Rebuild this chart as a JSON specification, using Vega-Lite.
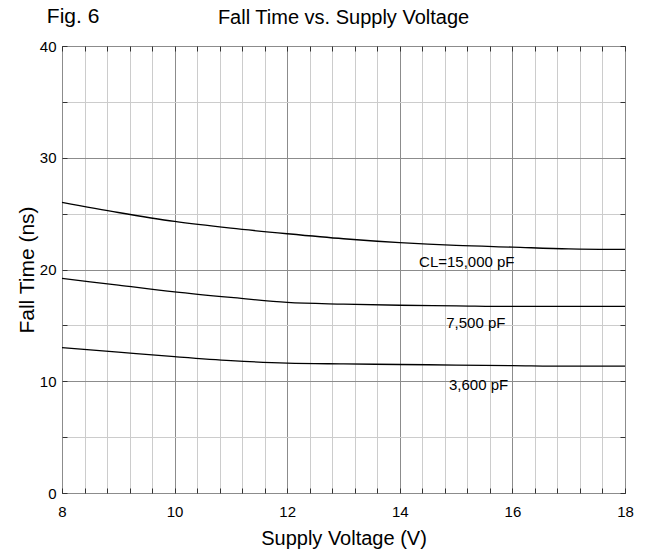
{
  "$schema": "https://vega.github.io/schema/vega-lite/v6.json",
  "width": 563,
  "height": 447,
  "autosize": "none",
  "padding": {"left": 62, "top": 46, "right": 23, "bottom": 66},
  "background": "white",
  "config": {
    "view": {"stroke": "#000", "strokeWidth": 1},
    "font": "Liberation Sans",
    "text": {"font": "Liberation Sans", "color": "#000"}
  },
  "title": {
    "text": "Fall Time vs. Supply Voltage",
    "fontSize": 20,
    "fontWeight": "normal",
    "font": "Liberation Sans",
    "color": "#000",
    "anchor": "middle",
    "frame": "group",
    "offset": -22
  },
  "datasets": {
    "curves": [
      {"V": 8, "t": 26.0, "CL": "15000"},
      {"V": 9, "t": 25.1, "CL": "15000"},
      {"V": 10, "t": 24.3, "CL": "15000"},
      {"V": 11, "t": 23.7, "CL": "15000"},
      {"V": 12, "t": 23.2, "CL": "15000"},
      {"V": 13, "t": 22.75, "CL": "15000"},
      {"V": 14, "t": 22.4, "CL": "15000"},
      {"V": 15, "t": 22.15, "CL": "15000"},
      {"V": 16, "t": 22.0, "CL": "15000"},
      {"V": 17, "t": 21.85, "CL": "15000"},
      {"V": 18, "t": 21.8, "CL": "15000"},
      {"V": 8, "t": 19.2, "CL": "7500"},
      {"V": 9, "t": 18.6, "CL": "7500"},
      {"V": 10, "t": 18.0, "CL": "7500"},
      {"V": 11, "t": 17.5, "CL": "7500"},
      {"V": 12, "t": 17.05, "CL": "7500"},
      {"V": 13, "t": 16.9, "CL": "7500"},
      {"V": 14, "t": 16.8, "CL": "7500"},
      {"V": 15, "t": 16.75, "CL": "7500"},
      {"V": 16, "t": 16.7, "CL": "7500"},
      {"V": 17, "t": 16.7, "CL": "7500"},
      {"V": 18, "t": 16.7, "CL": "7500"},
      {"V": 8, "t": 13.0, "CL": "3600"},
      {"V": 9, "t": 12.6, "CL": "3600"},
      {"V": 10, "t": 12.2, "CL": "3600"},
      {"V": 11, "t": 11.85, "CL": "3600"},
      {"V": 12, "t": 11.62, "CL": "3600"},
      {"V": 13, "t": 11.55, "CL": "3600"},
      {"V": 14, "t": 11.5, "CL": "3600"},
      {"V": 15, "t": 11.45, "CL": "3600"},
      {"V": 16, "t": 11.4, "CL": "3600"},
      {"V": 17, "t": 11.35, "CL": "3600"},
      {"V": 18, "t": 11.35, "CL": "3600"}
    ],
    "labels": [
      {"V": 15.19, "t": 20.2, "label": "CL=15,000 pF"},
      {"V": 15.35, "t": 14.76, "label": "7,500 pF"},
      {"V": 15.4, "t": 9.22, "label": "3,600 pF"}
    ],
    "fig": [
      {"V": 7.73, "t": 42.06, "label": "Fig. 6"}
    ]
  },
  "layer": [
    {
      "data": {"name": "curves"},
      "mark": {"type": "line", "color": "#000", "strokeWidth": 1.3, "interpolate": "monotone"},
      "encoding": {
        "x": {
          "field": "V", "type": "quantitative",
          "scale": {"domain": [8, 18], "nice": false, "zero": false},
          "axis": {
            "orient": "bottom",
            "values": [8, 8.4, 8.8, 9.2, 9.6, 10, 10.4, 10.8, 11.2, 11.6, 12, 12.4, 12.8, 13.2, 13.6, 14, 14.4, 14.8, 15.2, 15.6, 16, 16.4, 16.8, 17.2, 17.6, 18],
            "grid": true,
            "gridColor": {"condition": {"test": "datum.value % 2 === 0", "value": "#8c8c8c"}, "value": "#cccccc"},
            "gridOpacity": 1,
            "gridWidth": 1,
            "domain": false,
            "ticks": true,
            "tickSize": -5,
            "tickColor": "#333",
            "labelExpr": "datum.value % 2 === 0 ? format(datum.value, 'd') : ''",
            "labelOverlap": false,
            "labelFlush": false,
            "labelBound": false,
            "labelFontSize": 15,
            "labelColor": "#000",
            "labelPadding": 16,
            "title": "Supply Voltage (V)",
            "titleFontSize": 20,
            "titleFontWeight": "normal",
            "titleColor": "#000",
            "titlePadding": 9
          }
        },
        "y": {
          "field": "t", "type": "quantitative",
          "scale": {"domain": [0, 40], "nice": false},
          "axis": {
            "orient": "left",
            "values": [0, 5, 10, 15, 20, 25, 30, 35, 40],
            "grid": true,
            "gridColor": {"condition": {"test": "datum.value % 10 === 0", "value": "#8c8c8c"}, "value": "#cccccc"},
            "gridOpacity": 1,
            "gridWidth": 1,
            "domain": false,
            "ticks": true,
            "tickSize": -5,
            "tickColor": "#333",
            "labelExpr": "datum.value % 10 === 0 ? format(datum.value, 'd') : ''",
            "labelOverlap": false,
            "labelFlush": false,
            "labelBound": false,
            "labelFontSize": 15,
            "labelColor": "#000",
            "labelPadding": 11,
            "title": "Fall Time (ns)",
            "titleFontSize": 21,
            "titleFontWeight": "normal",
            "titleColor": "#000",
            "titlePadding": 2
          }
        },
        "detail": {"field": "CL", "type": "nominal"}
      }
    },
    {
      "data": {"name": "labels"},
      "mark": {"type": "text", "fontSize": 15, "align": "center", "baseline": "alphabetic", "color": "#000"},
      "encoding": {
        "x": {
          "field": "V", "type": "quantitative",
          "axis": {
            "orient": "top",
            "values": [8, 8.4, 8.8, 9.2, 9.6, 10, 10.4, 10.8, 11.2, 11.6, 12, 12.4, 12.8, 13.2, 13.6, 14, 14.4, 14.8, 15.2, 15.6, 16, 16.4, 16.8, 17.2, 17.6, 18],
            "grid": false, "labels": false, "domain": false,
            "ticks": true, "tickSize": -5, "tickColor": "#333", "title": null
          }
        },
        "y": {
          "field": "t", "type": "quantitative",
          "axis": {
            "orient": "right",
            "values": [0, 5, 10, 15, 20, 25, 30, 35, 40],
            "grid": false, "labels": false, "domain": false,
            "ticks": true, "tickSize": -5, "tickColor": "#333", "title": null
          }
        },
        "text": {"field": "label", "type": "nominal"}
      }
    },
    {
      "data": {"name": "fig"},
      "mark": {"type": "text", "fontSize": 21, "align": "left", "baseline": "alphabetic", "color": "#000"},
      "encoding": {
        "x": {"field": "V", "type": "quantitative", "axis": null},
        "y": {"field": "t", "type": "quantitative", "axis": null},
        "text": {"field": "label", "type": "nominal"}
      }
    }
  ],
  "resolve": {"axis": {"x": "independent", "y": "independent"}}
}
